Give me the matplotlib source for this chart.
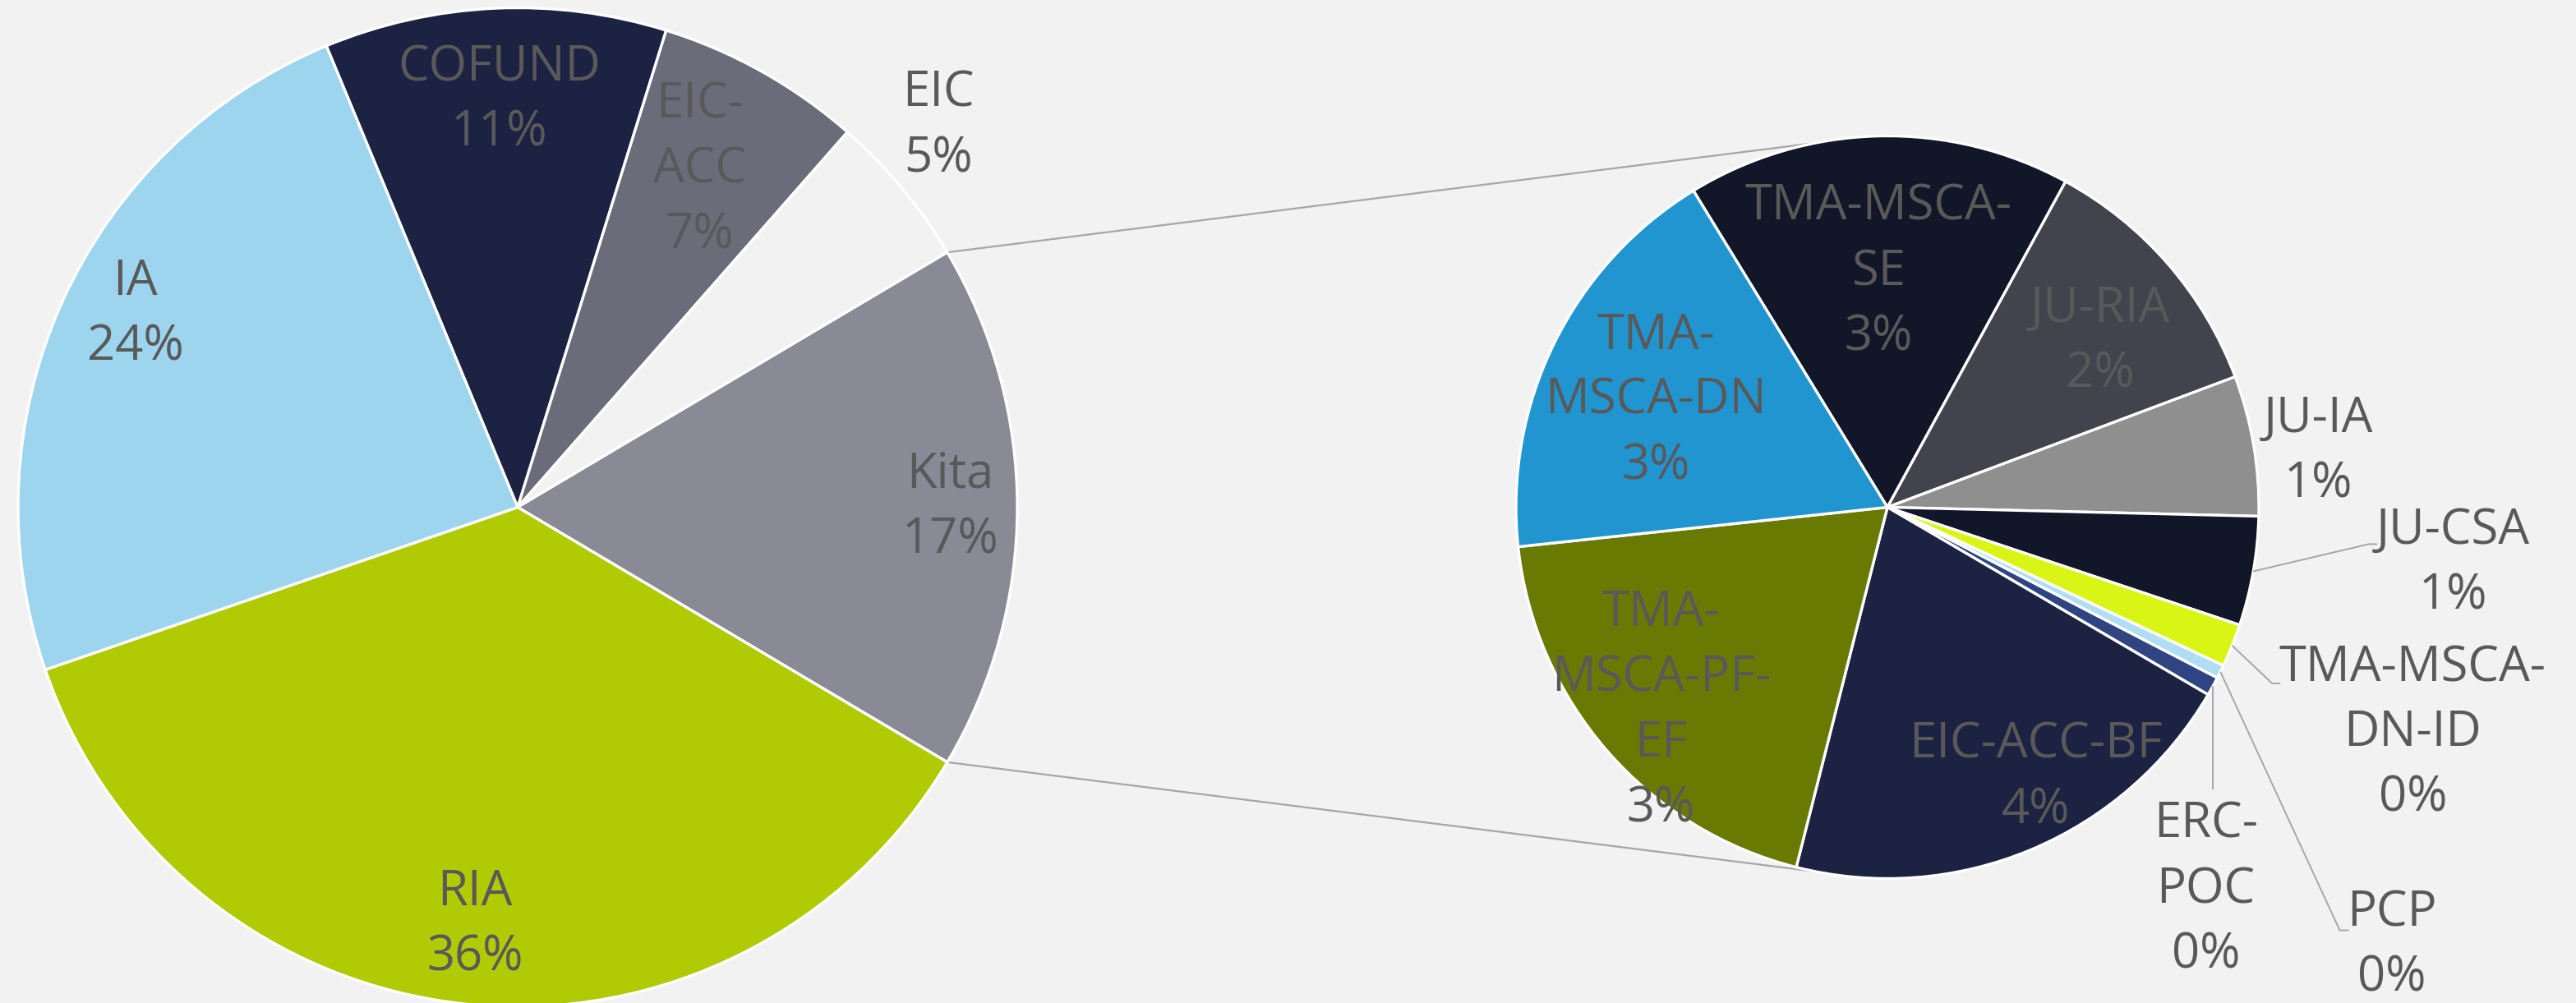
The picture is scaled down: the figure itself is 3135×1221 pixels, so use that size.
import matplotlib
matplotlib.use("Agg")
import matplotlib.pyplot as plt
import numpy as np

plt.rcParams['font.family'] = ['Open Sans', 'DejaVu Sans']

# main pie, share of total (%)
main_names = ['COFUND', 'EIC-ACC', 'EIC', 'Kita', 'RIA', 'IA']
main_values = [11.06, 6.67, 5.00, 17.05, 36.20, 24.02]
main_colors = ['#1B2242', '#6B6C7A', '#F2F2F2', '#898A96', '#B0CA04', '#9DD4EE']

# breakdown of "Kita" (%)
sub_names = ['TMA-MSCA-SE', 'JU-RIA', 'JU-IA', 'JU-CSA', 'TMA-MSCA-DN-ID',
             'PCP', 'ERC-POC', 'EIC-ACC-BF', 'TMA-MSCA-PF-EF', 'TMA-MSCA-DN']
sub_values = [2.85, 1.93, 1.04, 0.81, 0.32, 0.10, 0.14, 3.50, 3.30, 3.06]
sub_colors = ['#111628', '#42434C', '#8F8F8F', '#111628', '#D9F516',
              '#AEDDF4', '#2F4480', '#1B2242', '#697A03', '#2195D0']

# how the labels are broken into lines
wrap = {
    'EIC-ACC': 'EIC-\nACC',
    'TMA-MSCA-SE': 'TMA-MSCA-\nSE',
    'TMA-MSCA-DN-ID': 'TMA-MSCA-\nDN-ID',
    'ERC-POC': 'ERC-\nPOC',
    'TMA-MSCA-PF-EF': 'TMA-\nMSCA-PF-\nEF',
    'TMA-MSCA-DN': 'TMA-\nMSCA-DN',
}

W, H = 3135, 1221
BG = '#F2F2F2'
TXT = '#595959'
LINE = '#A6A6A6'

fig = plt.figure(figsize=(W / 100, H / 100), dpi=100, facecolor=BG)
ax = fig.add_axes([0, 0, 1, 1])
ax.set_facecolor(BG)

cL, rL = (630, H - 617.5), 608
cR, rR = (2297, H - 617.5), 452

total = sum(main_values)
kita_deg = 360 * main_values[3] / total
start_L = kita_deg / 2 + 360 * sum(main_values[:3]) / total

wp = dict(edgecolor='white', linewidth=2.4)
wL, _ = ax.pie(main_values, colors=main_colors, startangle=start_L,
               counterclock=False, center=cL, radius=rL, wedgeprops=wp)
wR, _ = ax.pie(sub_values, colors=sub_colors, startangle=121.5,
               counterclock=False, center=cR, radius=rR, wedgeprops=wp)


def polar(c, r, ang):
    a = np.deg2rad(ang)
    return c[0] + r * np.cos(a), c[1] + r * np.sin(a)


def mid(w):
    return (w.theta1 + w.theta2) / 2


def pct(v):
    return '%d%%' % int(v / total * 100 + 0.5)


txt_kw = dict(ha='center', va='center', color=TXT, fontsize=43,
              linespacing=1.42, multialignment='center')

# label placement: (distance as fraction of radius, angle offset from wedge middle)
main_pos = {'COFUND': (0.816, 0), 'EIC-ACC': (0.767, 1), 'EIC': (1.136, 2.5),
            'Kita': (0.866, 0), 'RIA': (0.84, 0), 'IA': (0.857, -2.5)}
sub_pos = {'TMA-MSCA-SE': (0.634, 0.7), 'JU-RIA': (0.727, -3),
           'JU-IA': (1.17, -2.2), 'JU-CSA': (1.53, 4.3),
           'TMA-MSCA-DN-ID': (1.54, -1.4), 'PCP': (1.8, -14.7),
           'ERC-POC': (1.34, -21.4), 'EIC-ACC-BF': (0.83, 6),
           'TMA-MSCA-PF-EF': (0.82, 1), 'TMA-MSCA-DN': (0.686, 1.5)}

for w, name, v in zip(wL, main_names, main_values):
    d, off = main_pos[name]
    x, y = polar(cL, rL * d, mid(w) + off)
    ax.text(x, y, wrap.get(name, name) + '\n' + pct(v), **txt_kw)

for w, name, v in zip(wR, sub_names, sub_values):
    d, off = sub_pos[name]
    x, y = polar(cR, rR * d, mid(w) + off)
    ax.text(x, y, wrap.get(name, name) + '\n' + pct(v), **txt_kw)

# leader lines for the small slices (elbow points in pixel coords, y from top)
leaders = {'JU-CSA': [(2882.7, 662.4), (2893, 662.4)],
           'TMA-MSCA-DN-ID': [(2765.3, 832), (2775.4, 832)],
           'ERC-POC': [None, 960.5],
           'PCP': [(2847.5, 1132.5), (2858.5, 1132.5)]}
for w, name in zip(wR, sub_names):
    if name not in leaders:
        continue
    x0, y0 = polar(cR, rR, mid(w))
    pts = leaders[name]
    if pts[0] is None:
        xs, ys = [x0, x0], [y0, H - pts[1]]
    else:
        xs = [x0] + [p[0] for p in pts]
        ys = [y0] + [H - p[1] for p in pts]
    ax.plot(xs, ys, color=LINE, lw=1.4, solid_capstyle='butt', zorder=1)

# connector lines between the two pies
kita = wL[3]
for t_left, t_right in [(kita.theta2, 101), (kita.theta1, -101)]:
    p0 = polar(cL, rL, t_left)
    p1 = polar(cR, rR, t_right)
    ax.plot([p0[0], p1[0]], [p0[1], p1[1]], color=LINE, lw=1.6, zorder=0.5)

ax.set_xlim(0, W)
ax.set_ylim(0, H)
ax.set_aspect('equal')
ax.axis('off')

fig.savefig('out.png', dpi=100, facecolor=BG)
